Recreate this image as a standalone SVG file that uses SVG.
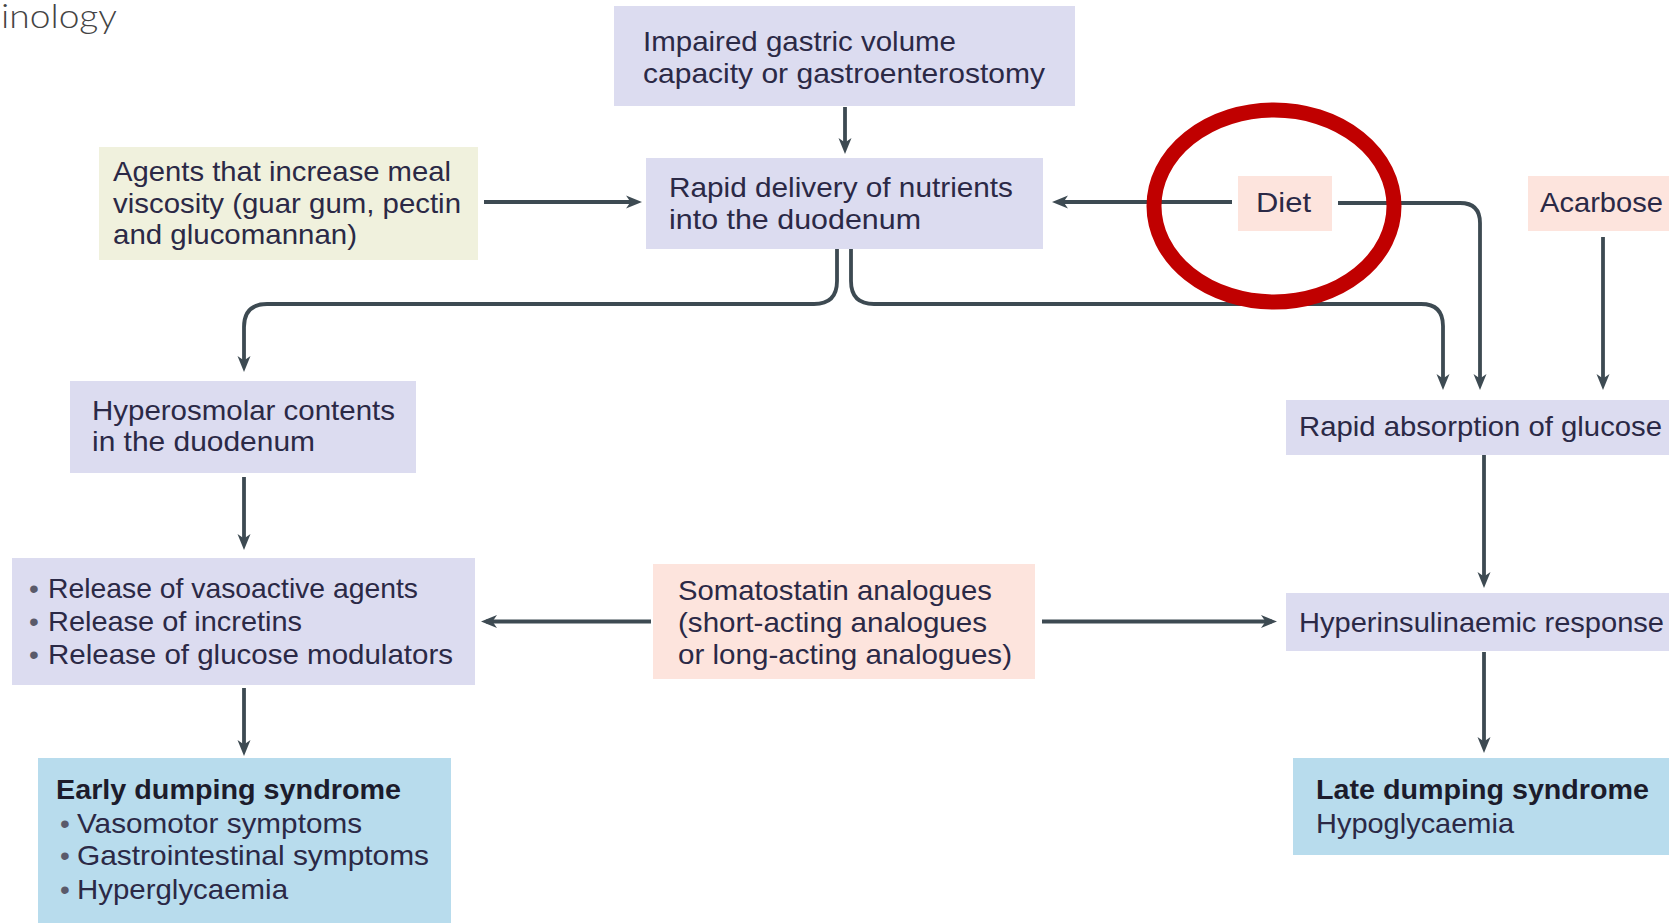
<svg xmlns="http://www.w3.org/2000/svg" width="1669" height="923" viewBox="0 0 1669 923">
<style>
.lav{fill:#dcdcf0}
.pink{fill:#fde4dd}
.yel{fill:#f0f1dd}
.blue{fill:#b8dced}
text{font-family:"Liberation Sans",Arial,sans-serif;font-size:28px;fill:#2b2946}
.b{font-weight:bold;fill:#1c1c2c}
.bul{fill:#5a5a6a}
.con path{fill:none;stroke:#3d4a52;stroke-width:3.8;marker-end:url(#ah)}
</style>
<defs>
<marker id="ah" viewBox="0 0 16 16" refX="11" refY="8" markerWidth="16" markerHeight="16" markerUnits="userSpaceOnUse" orient="auto">
<path d="M0,1.5 L16,8 L0,14.5 L4.5,8 Z" fill="#3d4a52"/>
</marker>
</defs>
<rect width="1669" height="923" fill="#ffffff"/>
<text x="1" y="28" textLength="116" lengthAdjust="spacingAndGlyphs" style="font-family:Lato,'Open Sans',sans-serif;font-weight:300;font-size:33px;fill:#444">inology</text>

<g id="impaired">
<rect class="lav" x="614" y="6" width="461" height="100"/>
<text x="643" y="51" textLength="313" lengthAdjust="spacingAndGlyphs">Impaired gastric volume</text>
<text x="643" y="83" textLength="402" lengthAdjust="spacingAndGlyphs">capacity or gastroenterostomy</text>
</g>
<g id="rapid-delivery">
<rect class="lav" x="646" y="158" width="397" height="91"/>
<text x="669" y="197" textLength="344" lengthAdjust="spacingAndGlyphs">Rapid delivery of nutrients</text>
<text x="669" y="229" textLength="252" lengthAdjust="spacingAndGlyphs">into the duodenum</text>
</g>
<g id="agents">
<rect class="yel" x="99" y="147" width="379" height="113"/>
<text x="113" y="181" textLength="338" lengthAdjust="spacingAndGlyphs">Agents that increase meal</text>
<text x="113" y="213" textLength="348" lengthAdjust="spacingAndGlyphs">viscosity (guar gum, pectin</text>
<text x="113" y="244" textLength="244" lengthAdjust="spacingAndGlyphs">and glucomannan)</text>
</g>
<g id="diet">
<rect class="pink" x="1238" y="176" width="94" height="55"/>
<text x="1256" y="212" textLength="55" lengthAdjust="spacingAndGlyphs">Diet</text>
</g>
<g id="acarbose">
<rect class="pink" x="1528" y="176" width="150" height="55"/>
<text x="1540" y="212" textLength="123" lengthAdjust="spacingAndGlyphs">Acarbose</text>
</g>
<g id="hyperosmolar">
<rect class="lav" x="70" y="381" width="346" height="92"/>
<text x="92" y="420" textLength="303" lengthAdjust="spacingAndGlyphs">Hyperosmolar contents</text>
<text x="92" y="451" textLength="223" lengthAdjust="spacingAndGlyphs">in the duodenum</text>
</g>
<g id="release">
<rect class="lav" x="12" y="558" width="463" height="127"/>
<text y="598"><tspan class="bul" x="29">•</tspan><tspan x="48" textLength="370" lengthAdjust="spacingAndGlyphs">Release of vasoactive agents</tspan></text>
<text y="631"><tspan class="bul" x="29">•</tspan><tspan x="48" textLength="254" lengthAdjust="spacingAndGlyphs">Release of incretins</tspan></text>
<text y="664"><tspan class="bul" x="29">•</tspan><tspan x="48" textLength="405" lengthAdjust="spacingAndGlyphs">Release of  glucose modulators</tspan></text>
</g>
<g id="somatostatin">
<rect class="pink" x="653" y="564" width="382" height="115"/>
<text x="678" y="600" textLength="314" lengthAdjust="spacingAndGlyphs">Somatostatin analogues</text>
<text x="678" y="632" textLength="309" lengthAdjust="spacingAndGlyphs">(short-acting analogues</text>
<text x="678" y="664" textLength="334" lengthAdjust="spacingAndGlyphs">or long-acting analogues)</text>
</g>
<g id="early">
<rect class="blue" x="38" y="758" width="413" height="170"/>
<text class="b" x="56" y="799" textLength="345" lengthAdjust="spacingAndGlyphs">Early dumping syndrome</text>
<text y="833"><tspan class="bul" x="60">•</tspan><tspan x="77" textLength="285" lengthAdjust="spacingAndGlyphs">Vasomotor symptoms</tspan></text>
<text y="865"><tspan class="bul" x="60">•</tspan><tspan x="77" textLength="352" lengthAdjust="spacingAndGlyphs">Gastrointestinal symptoms</tspan></text>
<text y="899"><tspan class="bul" x="60">•</tspan><tspan x="77" textLength="211" lengthAdjust="spacingAndGlyphs">Hyperglycaemia</tspan></text>
</g>
<g id="absorption">
<rect class="lav" x="1286" y="400" width="390" height="55"/>
<text x="1299" y="436" textLength="363" lengthAdjust="spacingAndGlyphs">Rapid absorption of glucose</text>
</g>
<g id="hyperinsulinaemic">
<rect class="lav" x="1286" y="593" width="390" height="58"/>
<text x="1299" y="632" textLength="365" lengthAdjust="spacingAndGlyphs">Hyperinsulinaemic response</text>
</g>
<g id="late">
<rect class="blue" x="1293" y="758" width="383" height="97"/>
<text class="b" x="1316" y="799" textLength="333" lengthAdjust="spacingAndGlyphs">Late dumping syndrome</text>
<text x="1316" y="833" textLength="198" lengthAdjust="spacingAndGlyphs">Hypoglycaemia</text>
</g>

<g id="connectors" class="con">
<path d="M845,107 V149"/>
<path d="M484,202 H637"/>
<path d="M1232,202 H1057"/>
<path d="M1338,203 H1460 Q1480,203 1480,223 V385"/>
<path d="M1603,237 V385"/>
<path d="M837,249 V281 Q837,304 814,304 H267 Q244,304 244,327 V367"/>
<path d="M851,249 V281 Q851,304 874,304 H1421 Q1443,304 1443,326 V385"/>
<path d="M244,477 V545"/>
<path d="M651,621.5 H486"/>
<path d="M1042,621.5 H1272"/>
<path d="M244,688 V751"/>
<path d="M1484,455 V583"/>
<path d="M1484,652 V748"/>
</g>

<ellipse id="highlight" cx="1274" cy="206" rx="120" ry="96" fill="none" stroke="#c00000" stroke-width="15"/>
</svg>
